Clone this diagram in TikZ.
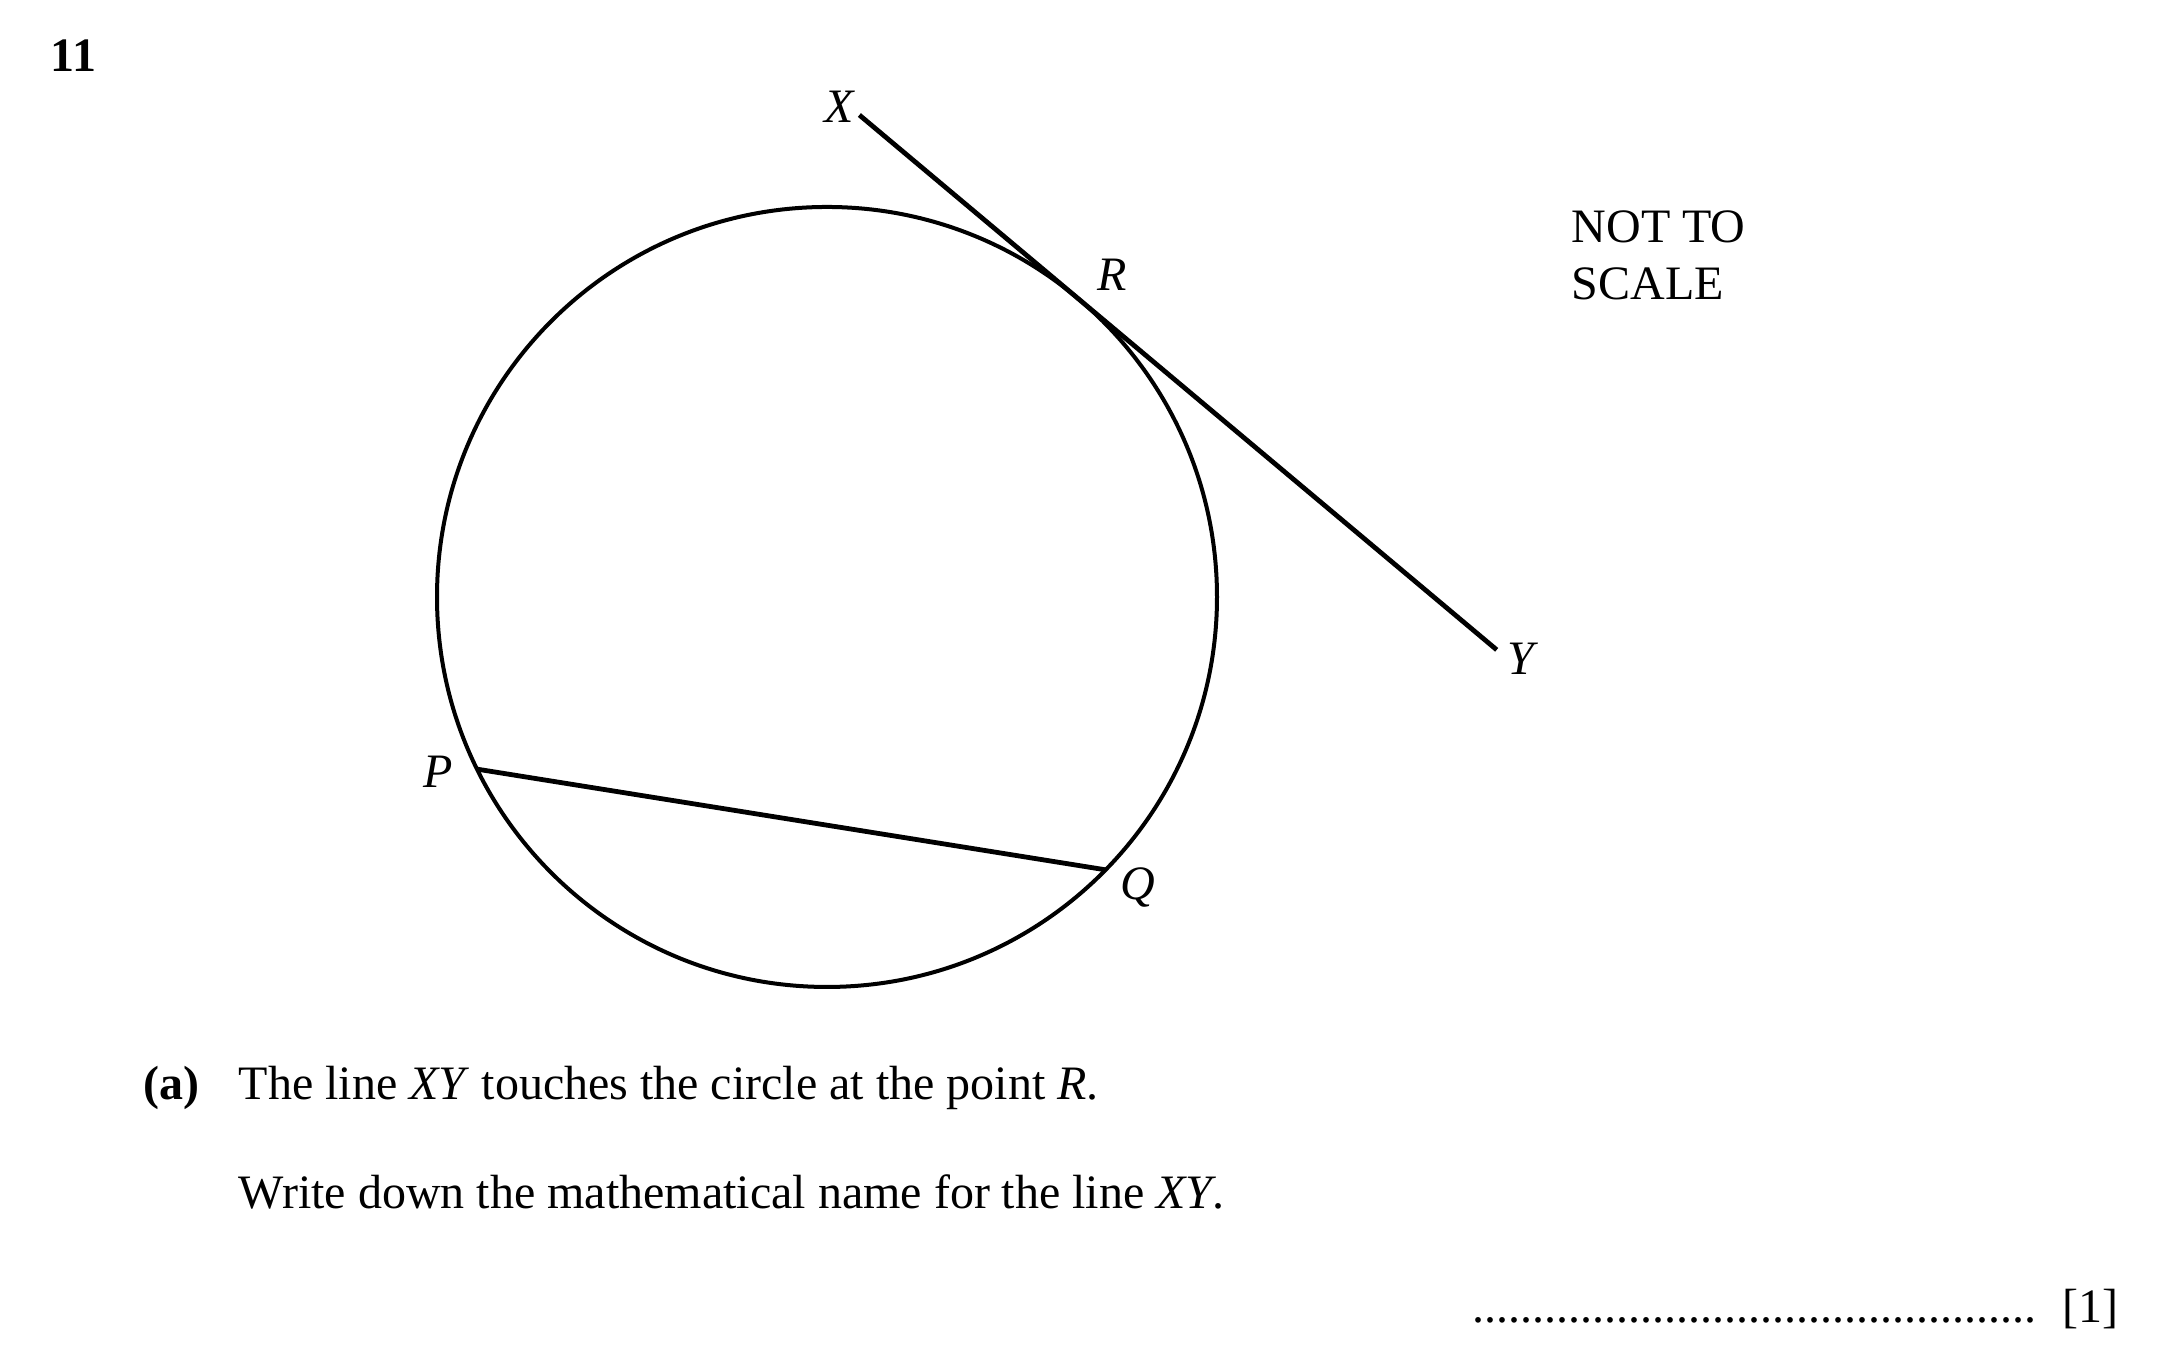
\documentclass[tikz,border=0pt]{standalone}
\usepackage{fontspec}
\setmainfont{Liberation Serif}
\usetikzlibrary{calc}
\begin{document}
\begin{tikzpicture}[x=0.25pt, y=0.25pt, font=\fontsize{12}{14}\selectfont,
  every node/.style={inner sep=0pt}, lbl/.style={anchor=base}, txt/.style={anchor=base west}]
\useasboundingbox (0,0) rectangle (2167,1355);
\node[txt, font=\fontsize{12}{14}\selectfont\bfseries] (num) at (50,1283) {11};
% circle with tangent XY at R and chord PQ
\coordinate (O) at (827,758);
\draw[line width=1pt] (O) circle (390);
\coordinate (R) at ($(O)+(50:390)$);
\coordinate (P) at ($(O)+(206.2:390)$);
\coordinate (Q) at ($(O)+(-44.4:390)$);
\coordinate (X) at ($(R)+(140:285)$);
\coordinate (Y) at ($(R)+(-40:547)$);
\draw[line width=1.2pt] (X) -- (R) -- (Y);
\draw[line width=1.2pt] (P) -- (Q);
\node[lbl] (lX) at (840,1232) {\textit{X}};
\node[lbl] (lR) at (1112,1064) {\textit{R}};
\node[lbl] (lY) at (1523,680) {\textit{Y}};
\node[lbl] (lP) at (438,567) {\textit{P}};
\node[lbl] (lQ) at (1138,455) {\textit{Q}};
\node[txt] (nt1) at (1571,1112) {NOT TO};
\node[txt] (nt2) at (1571,1055) {SCALE};
% part (a)
\node[txt, font=\fontsize{12}{14}\selectfont\bfseries] (pa) at (143,255) {(a)};
\node[txt] (q1) at (238,255) {The line \textit{XY} touches the circle at the point \textit{R}.};
\node[txt] (q2) at (238,146) {Write down the mathematical name for the line \textit{XY}.};
\node[txt] (dots) at (1472,32) {...............................................};
\node[txt] (mk) at (2062,32) {[1]};
\end{tikzpicture}
\end{document}
